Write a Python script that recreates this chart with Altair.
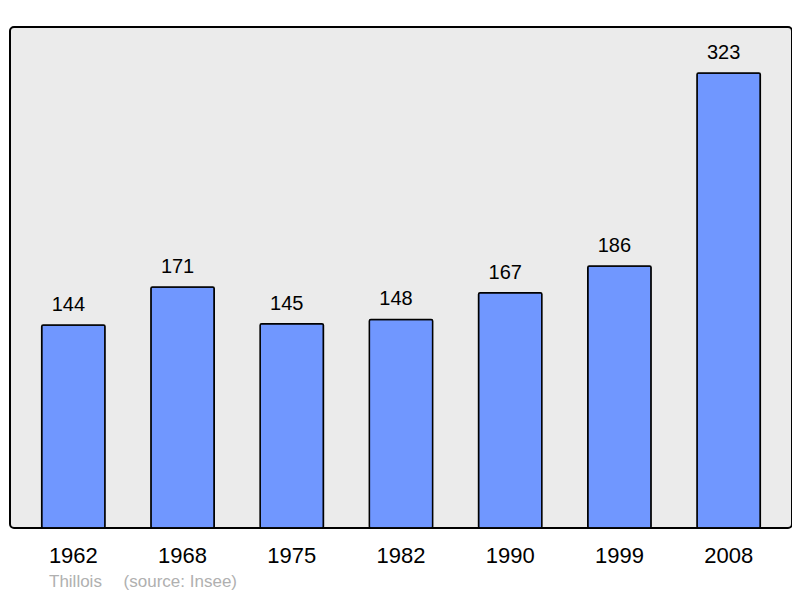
import altair as alt
import pandas as pd

years = ["1962", "1968", "1975", "1982", "1990", "1999", "2008"]
population = [144, 171, 145, 148, 167, 186, 323]

df = pd.DataFrame({"year": years, "pop": population})

FONT = "Liberation Sans"

base = alt.Chart(df).encode(
    x=alt.X(
        "year:N",
        sort=years,
        scale=alt.Scale(paddingInner=0.42, paddingOuter=0.29),
        axis=alt.Axis(
            title=None,
            labelAngle=0,
            labelFontSize=22,
            labelFont=FONT,
            labelColor="black",
            ticks=False,
            domain=False,
            labelPadding=17,
        ),
    ),
    y=alt.Y("pop:Q", scale=alt.Scale(domain=[0, 355.6], nice=False, zero=True), axis=None),
)

bars = base.mark_bar(
    color="#7097ff", stroke="black", strokeWidth=1.5, cornerRadius=1.5
)

labels = base.mark_text(
    baseline="alphabetic", dx=-5, dy=-14, fontSize=20, font=FONT, color="black"
).encode(text="pop:Q")

chart = (
    alt.layer(bars, labels)
    .properties(
        width=782,
        height=501,
        padding={"left": 2, "top": 19, "right": 0, "bottom": 2},
        title=alt.TitleParams(
            "Thillois\u2003 (source: Insee)",
            orient="bottom",
            anchor="start",
            dx=39,
            offset=8,
            fontSize=17,
            font=FONT,
            fontWeight="normal",
            color="#b0b0b0",
        ),
    )
    .configure_view(fill="#ebebeb", stroke="black", strokeWidth=2, cornerRadius=4)
)

chart.save("out.html", embed_options={"renderer": "svg", "actions": False})
